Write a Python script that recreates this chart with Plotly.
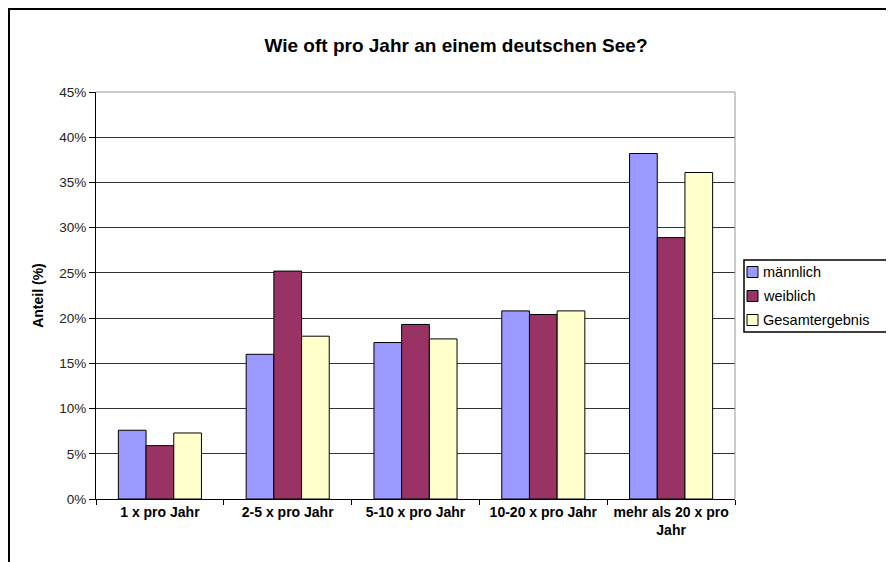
import plotly.graph_objects as go

categories = ["1 x pro Jahr", "2-5 x pro Jahr", "5-10 x pro Jahr", "10-20 x pro Jahr",
              "mehr als 20 x pro<br>Jahr"]
maennlich = [7.6, 16.0, 17.3, 20.8, 38.2]
weiblich = [5.9, 25.2, 19.3, 20.4, 28.9]
gesamt = [7.3, 18.0, 17.7, 20.8, 36.1]
series_names = ["männlich", "weiblich", "Gesamtergebnis"]
colors = ["#9999FF", "#993366", "#FFFFCC"]

# page body has an 8px margin: figure pixel = picture pixel - 8
OFF = 8
W, H = 894 - OFF, 562 - OFF
L, T = 96 - OFF, 92 - OFF
R = W - (735 - OFF)
B = H - (499 - OFF)
pw, ph = W - L - R, H - T - B

def px_x(x):  # picture px -> paper
    return (x - OFF - L) / pw

def px_y(y):
    return 1 - (y - OFF - T) / ph

FONT = "Liberation Sans, Arial, sans-serif"

fig = go.Figure()
for name, vals, col in zip(series_names, [maennlich, weiblich, gesamt], colors):
    fig.add_trace(go.Bar(
        x=categories, y=vals, name=name,
        marker=dict(color=col, line=dict(color="black", width=1)),
    ))

fig.update_layout(
    width=W, height=H,
    margin=dict(l=L, r=R, t=T, b=B, autoexpand=False),
    paper_bgcolor="white", plot_bgcolor="white",
    barmode="group", bargap=0.35, bargroupgap=0,
    font=dict(family=FONT, color="black"),
    title=dict(text="<b>Wie oft pro Jahr an einem deutschen See?</b>",
               x=(456 - OFF) / W, xanchor="center", y=1 - (45 - OFF) / H, yanchor="middle",
               font=dict(size=19, family=FONT, color="black")),
    showlegend=False,
)

fig.update_xaxes(
    showline=True, linecolor="black", linewidth=1,
    ticks="outside", tickson="boundaries", ticklen=5, tickcolor="black",
    tickfont=dict(size=14, family=FONT, color="black", weight="bold"),
    showgrid=False,
)
fig.update_yaxes(
    range=[0, 45], dtick=5, ticksuffix="%",
    showline=True, linecolor="black", linewidth=1,
    ticks="outside", ticklen=6, tickcolor="black",
    tickfont=dict(size=13.5, family=FONT, color="#222"),
    showgrid=True, gridcolor="#333333", gridwidth=1,
    zeroline=False,
    title=dict(text="<b>Anteil (%)</b>", font=dict(size=14, family=FONT, color="black"),
               standoff=12),
)

# gray plot-area border on top and right
fig.add_shape(type="line", xref="paper", yref="paper", x0=0, x1=1, y0=1, y1=1,
              line=dict(color="#999999", width=1))
fig.add_shape(type="line", xref="paper", yref="paper", x0=1, x1=1, y0=0, y1=1,
              line=dict(color="#999999", width=1))

# outer chart frame (left and top visible)
fx = (1 - L) / pw
fy = 1 + (T - 1) / ph
fig.add_shape(type="path", xref="paper", yref="paper",
              path=f"M {fx} {px_y(700)} L {fx} {fy} L {px_x(1000)} {fy}",
              line=dict(color="black", width=2))

# legend box (drawn to match the reference's compact legend)
fig.add_shape(type="rect", xref="paper", yref="paper",
              x0=px_x(744), x1=px_x(892), y0=px_y(332), y1=px_y(260),
              line=dict(color="black", width=1.5), fillcolor="white", layer="above")
for i, (name, col) in enumerate(zip(series_names, colors)):
    yc = 272 + 24 * i
    fig.add_shape(type="rect", xref="paper", yref="paper",
                  x0=px_x(747), x1=px_x(758), y0=px_y(yc + 5.5), y1=px_y(yc - 5.5),
                  line=dict(color="black", width=1), fillcolor=col, layer="above")
    fig.add_annotation(xref="paper", yref="paper", x=px_x(761), y=px_y(yc),
                       xanchor="left", yanchor="middle", showarrow=False,
                       text=name, font=dict(size=14.5, family=FONT, color="black"))

fig.write_html("out.html")
